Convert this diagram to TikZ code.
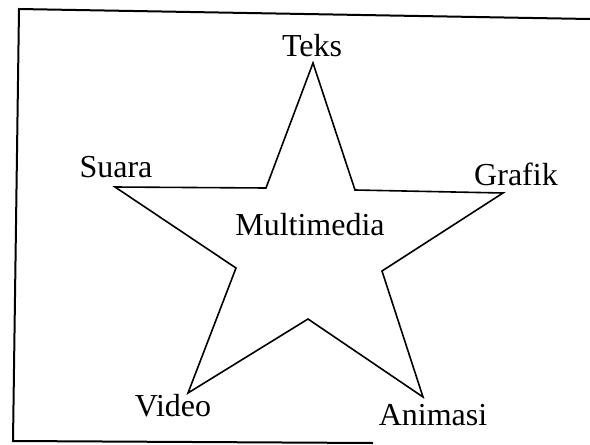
\documentclass[tikz,border=0pt]{standalone}
\usepackage{fontspec}
\setmainfont{Liberation Serif}
\usepackage{xcolor}
\usepackage{tikz}

\begin{document}
\begin{tikzpicture}[x=1pt,y=-1pt,
    starline/.style={line width=1.6pt,line join=miter},
    framelinestyle/.style={line width=2pt},
    itemtext/.style={anchor=base,inner sep=0pt,font=\fontsize{32}{36}\selectfont}]
  \useasboundingbox (0,0) rectangle (590,445);
  % scanned frame (open on the right)
  \draw[framelinestyle] (590,19) -- (19,9) -- (13,441) -- (373,443);
  % star
  \draw[starline] (313,63) -- (355,190) -- (503,193) -- (382,271)
    -- (423,397) -- (308,319) -- (188,393) -- (236,268)
    -- (115,187) -- (266,188) -- cycle;
  \node[itemtext] (teks) at (312,56) {Teks};
  \node[itemtext] (suara) at (116,177) {Suara};
  \node[itemtext] (grafik) at (516,185) {Grafik};
  \node[itemtext] (multimedia) at (310,235) {Multimedia};
  \node[itemtext] (video) at (173,416) {Video};
  \node[itemtext] (animasi) at (433,425) {Animasi};
\end{tikzpicture}
\end{document}
